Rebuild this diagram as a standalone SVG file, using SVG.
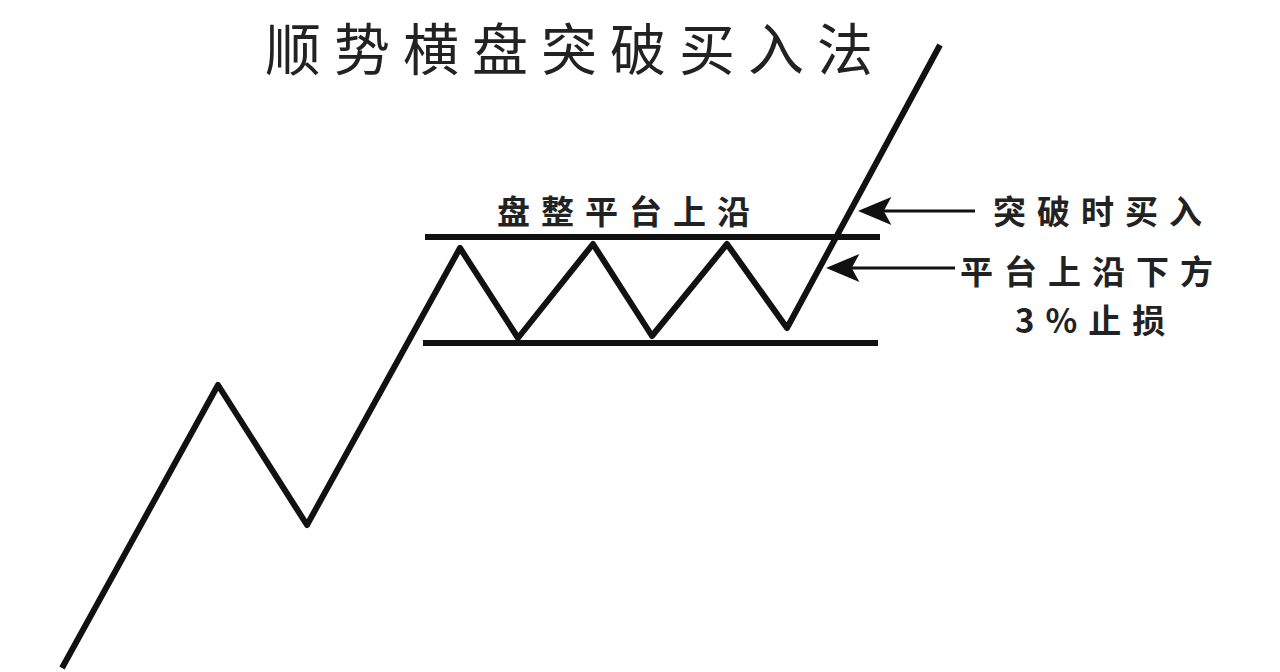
<svg xmlns="http://www.w3.org/2000/svg" width="1280" height="672" viewBox="0 0 1280 672">
<style>
.t{font-family:"Noto Sans CJK SC","Noto Sans",sans-serif;fill:#222}
.b{font-weight:bold;font-size:33px;letter-spacing:11px}
.ln{stroke:#111;fill:none;stroke-width:6}
</style>
<rect width="1280" height="672" fill="#fff"/>
<text class="t" x="265" y="70" font-size="56" letter-spacing="13">顺势横盘突破买入法</text>
<g id="price"><polyline class="ln" stroke-linejoin="round" points="62,668 218,385 307,525 460,248 518,338 593,244 652,336 727,244 787,328 940,45"/></g>
<g id="upper"><line class="ln" x1="425" y1="237" x2="880" y2="237"/></g>
<g id="lower"><line class="ln" x1="423" y1="343" x2="878" y2="343"/></g>
<text class="t b" x="497" y="224">盘整平台上沿</text>
<g id="connectors" stroke="#111" stroke-width="3" fill="#111">
<line x1="975" y1="211" x2="875" y2="211"/>
<path d="M862,211 L888,200 L882,211 L888,222 Z"/>
<line x1="955" y1="268" x2="843" y2="268"/>
<path d="M830,268 L856,257 L850,268 L856,279 Z"/>
</g>
<g id="buy"><text class="t b" x="993" y="224">突破时买入</text></g>
<g id="stop"><text class="t b" x="960" y="284">平台上沿下方</text>
<text class="t b" x="1015" y="333" letter-spacing="4">3%止损</text></g>
</svg>
